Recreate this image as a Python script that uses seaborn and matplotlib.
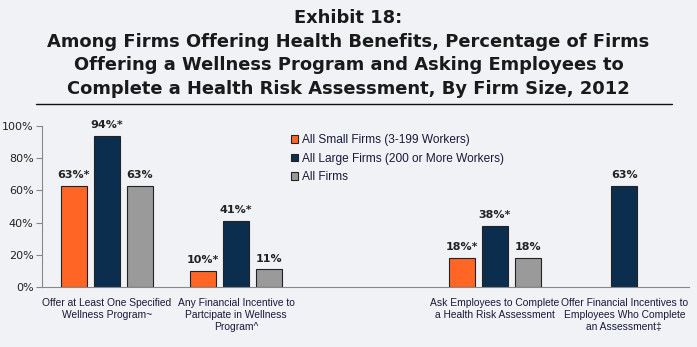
import matplotlib
matplotlib.use("Agg")
import matplotlib.pyplot as plt
import seaborn as sns
import pandas as pd
import numpy as np

# ---- data ----
categories = [
    "Offer at Least One Specified\nWellness Program~",
    "Any Financial Incentive to\nPartcipate in Wellness\nProgram^",
    "",
    "Ask Employees to Complete\na Health Risk Assessment",
    "Offer Financial Incentives to\nEmployees Who Complete\nan Assessment\u2021",
]
series = ["All Small Firms (3-199 Workers)", "All Large Firms (200 or More Workers)", "All Firms"]
small_vals = [0.63, 0.10, None, 0.18, None]
large_vals = [0.94, 0.41, None, 0.38, 0.63]
all_vals = [0.63, 0.11, None, 0.18, None]
small_sig = [True, True, False, True, False]
large_sig = [True, True, False, True, False]
all_sig = [False, False, False, False, False]
yticks = [0, 0.2, 0.4, 0.6, 0.8, 1.0]
ytick_labels = ["0%", "20%", "40%", "60%", "80%", "100%"]
title = ("Exhibit 18:\nAmong Firms Offering Health Benefits, Percentage of Firms\n"
         "Offering a Wellness Program and Asking Employees to\n"
         "Complete a Health Risk Assessment, By Firm Size, 2012")
colors = ["#ff6626", "#0c2e4e", "#9a9a9a"]

# ---- long-form table ----
keys = [f"c{i}" for i in range(len(categories))]
rows = []
for s, vals, sig in zip(series, [small_vals, large_vals, all_vals], [small_sig, large_sig, all_sig]):
    for k, v, g in zip(keys, vals, sig):
        if v is not None:
            rows.append({"cat": k, "series": s, "value": v, "sig": g})
df = pd.DataFrame(rows)

bg = "#f0f2f5"
sns.set_theme(style="white")
plt.rcParams["font.family"] = ["DejaVu Sans"]
small_font = ["Liberation Sans", "DejaVu Sans"]

fig = plt.figure(figsize=(6.97, 3.47), dpi=100, facecolor=bg)
ax = fig.add_axes([42 / 697, 1 - 287 / 347, (689 - 42) / 697, (287 - 126) / 347])
ax.set_facecolor(bg)

sns.barplot(data=df, x="cat", y="value", hue="series", order=keys, hue_order=series,
            palette=colors, saturation=1, width=0.765, gap=0.216, edgecolor="#222222",
            linewidth=0.8, errorbar=None, ax=ax, legend=True)

ax.set_xlim(-0.5, len(keys) - 0.5)
ax.set_ylim(0, 1.0)
ax.set_yticks(yticks)
ax.set_yticklabels(ytick_labels, fontsize=8, color="#222222")
ax.set_xticks(range(len(keys)))
ax.set_xticklabels(categories, fontsize=7.4, color="#1a1a3a", linespacing=1.22,
                   family=small_font)
ax.set_xticks(np.arange(-0.5, len(keys), 1.0), minor=True)
ax.tick_params(axis="x", which="major", length=0, pad=8)
ax.tick_params(axis="x", which="minor", length=4, color="#888888", width=0.8, direction="out")
ax.tick_params(axis="y", length=4, color="#888888", width=0.8, direction="out", pad=2, left=True)
ax.set_xlabel("")
ax.set_ylabel("")
for side in ["top", "right"]:
    ax.spines[side].set_visible(False)
for side in ["left", "bottom"]:
    ax.spines[side].set_color("#888888")
    ax.spines[side].set_linewidth(0.8)

# data labels
lab = {}
for s, vals, sig in zip(series, [small_vals, large_vals, all_vals], [small_sig, large_sig, all_sig]):
    for i, (v, g) in enumerate(zip(vals, sig)):
        if v is not None:
            lab[(s, i)] = f"{round(v * 100):d}%" + ("*" if g else "")
for s, cont in zip(series, ax.containers):
    labels = []
    for p in cont.patches:
        xc = p.get_x() + p.get_width() / 2
        i = int(round(xc))
        labels.append(lab.get((s, i), ""))
    ax.bar_label(cont, labels=labels, padding=4, fontsize=8, fontweight="bold", color="#222222")

# legend
handles, lbls = ax.get_legend_handles_labels()
leg = ax.legend(handles, lbls, loc="upper left", bbox_to_anchor=(291 / 697, 1 - 134 / 347),
                bbox_transform=fig.transFigure, frameon=False,
                prop={"family": small_font, "size": 8.6},
                handlelength=0.6, handleheight=0.6, handletextpad=0.3, labelspacing=0.55,
                borderaxespad=0, borderpad=0)
for t in leg.get_texts():
    t.set_color("#1a1a3a")

# title
fig.text(0.5, 1 - 9 / 347, title, ha="center", va="top", fontsize=12.9, fontweight="bold",
         color="#1a1a1a", linespacing=1.4)
fig.add_artist(plt.Line2D([36 / 697, 672 / 697], [1 - 104 / 347, 1 - 104 / 347],
                          color="#111111", linewidth=1.0))

fig.savefig("out.png", dpi=100, facecolor=bg)
